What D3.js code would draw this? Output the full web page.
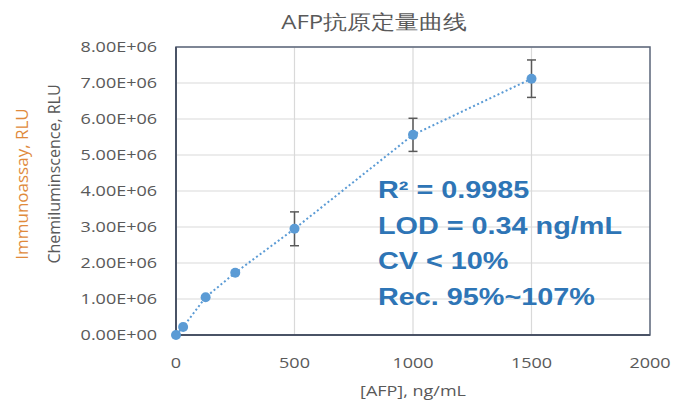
<!DOCTYPE html>
<html>
<head>
<meta charset="utf-8">
<script src="https://cdn.jsdelivr.net/npm/d3@7"></script>
<style>
  body { margin: 0; background: #fff; }
  svg { display: block; font-family: "Open Sans", "Noto Sans", sans-serif; }
  .grid line { stroke: #d9d9d9; stroke-width: 1.2; }
  .tick-label { fill: #595959; font-size: 15px; }
</style>
</head>
<body>
<div id="chart"></div>
<script>
// data
const concentration = [0, 30, 125, 250, 500, 1000, 1500];       // ng/mL
const signal = [0, 0.22e6, 1.05e6, 1.73e6, 2.95e6, 5.56e6, 7.12e6]; // RLU
const errorBar = [0, 0, 0, 0, 0.47e6, 0.46e6, 0.52e6];
const xTicks = [0, 500, 1000, 1500, 2000];
const yTicks = [0, 1e6, 2e6, 3e6, 4e6, 5e6, 6e6, 7e6, 8e6];
const statsLines = ["R\u00b2 = 0.9985", "LOD = 0.34 ng/mL", "CV < 10%", "Rec. 95%~107%"];

const width = 680, height = 401;
const margin = {top: 47, right: 30, bottom: 66, left: 176};
const stretch = 1.2; // the reference text is drawn a bit wide

const svg = d3.select("#chart")
    .append("svg")
    .attr("width", width)
    .attr("height", height);

const x = d3.scaleLinear().domain([0, 2000]).range([margin.left, width - margin.right]);
const y = d3.scaleLinear().domain([0, 8e6]).range([height - margin.bottom, margin.top]);

const wide = (px, py) => `translate(${px},${py}) scale(${stretch},1)`;

// gridlines
const grid = svg.append("g").attr("class", "grid");
grid.selectAll(".gy").data(yTicks.slice(1)).enter().append("line")
    .attr("x1", x(0)).attr("x2", x(2000))
    .attr("y1", d => y(d)).attr("y2", d => y(d));
grid.selectAll(".gx").data(xTicks.slice(1, -1)).enter().append("line")
    .attr("y1", y(0)).attr("y2", y(8e6))
    .attr("x1", d => x(d)).attr("x2", d => x(d));

// plot border
svg.append("rect")
    .attr("x", x(0)).attr("y", y(8e6))
    .attr("width", x(2000) - x(0)).attr("height", y(0) - y(8e6))
    .attr("fill", "none").attr("stroke", "#5a6478").attr("stroke-width", 1.5);
svg.append("path")
    .attr("d", `M${x(0)},${y(8e6)}V${y(0)}H${x(2000)}`)
    .attr("fill", "none").attr("stroke", "#4a5366").attr("stroke-width", 2);

// tick labels
svg.selectAll(".ylab").data(yTicks).enter().append("text")
    .attr("class", "tick-label")
    .attr("transform", d => wide(157, y(d)))
    .attr("dy", "0.35em").attr("text-anchor", "end")
    .text(d => d3.format(".2e")(d).replace("e+", "E+0").toUpperCase());
svg.selectAll(".xlab").data(xTicks).enter().append("text")
    .attr("class", "tick-label")
    .attr("transform", d => wide(x(d), 368))
    .attr("text-anchor", "middle")
    .text(d => d);

// titles
svg.append("text")
    .attr("transform", wide(374, 29))
    .attr("text-anchor", "middle")
    .attr("fill", "#595959").attr("font-size", 20)
    .text("AFP抗原定量曲线");
svg.append("text")
    .attr("transform", wide((x(0) + x(2000)) / 2, 396))
    .attr("text-anchor", "middle")
    .attr("fill", "#595959").attr("font-size", 15)
    .text("[AFP], ng/mL");
svg.append("text")
    .attr("transform", "translate(60,174) rotate(-90)")
    .attr("text-anchor", "middle")
    .attr("fill", "#595959").attr("font-size", 16)
    .text("Chemiluminscence, RLU");
svg.append("text")
    .attr("transform", "translate(28,184) rotate(-90)")
    .attr("text-anchor", "middle")
    .attr("fill", "#e08a3c").attr("font-size", 17)
    .text("Immunoassay, RLU");

const points = concentration.map((c, i) => ({c: c, s: signal[i], e: errorBar[i]}));

// dotted trendline
const line = d3.line().x(d => x(d.c)).y(d => y(d.s));
svg.append("path")
    .datum(points)
    .attr("d", line)
    .attr("fill", "none")
    .attr("stroke", "#5b9bd5")
    .attr("stroke-width", 2)
    .attr("stroke-dasharray", "2,2.5");

// error bars
const eb = svg.append("g").attr("stroke", "#595959").attr("stroke-width", 1.5);
points.filter(d => d.e > 0).forEach(d => {
    eb.append("line").attr("x1", x(d.c)).attr("x2", x(d.c))
        .attr("y1", y(d.s - d.e)).attr("y2", y(d.s + d.e));
    [d.s - d.e, d.s + d.e].forEach(v => {
        eb.append("line").attr("x1", x(d.c) - 4.5).attr("x2", x(d.c) + 4.5)
            .attr("y1", y(v)).attr("y2", y(v));
    });
});

// markers
svg.selectAll(".pt").data(points).enter().append("circle")
    .attr("cx", d => x(d.c)).attr("cy", d => y(d.s))
    .attr("r", 5).attr("fill", "#5b9bd5");

// stats text
svg.selectAll(".stat").data(statsLines).enter().append("text")
    .attr("transform", (d, i) => wide(378, 198 + i * 35.5))
    .attr("fill", "#2e75b6")
    .attr("font-family", "Liberation Sans, Arial, sans-serif")
    .attr("font-weight", "bold")
    .attr("font-size", 24)
    .text(d => d);
</script>
</body>
</html>
